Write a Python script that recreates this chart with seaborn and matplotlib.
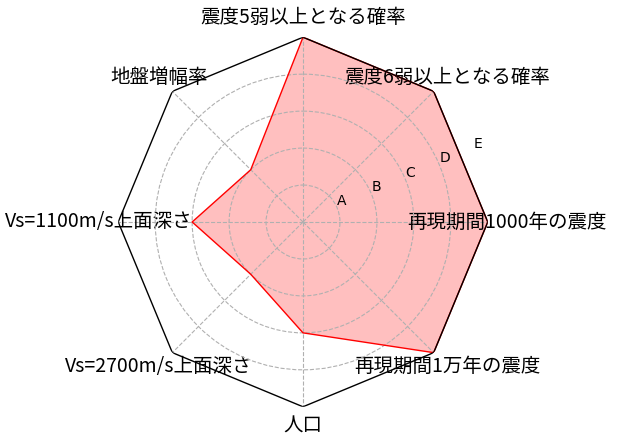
import numpy as np
import pandas as pd
import matplotlib
matplotlib.use('Agg')
import matplotlib.pyplot as plt
import seaborn as sns

# categories clockwise from the top, values on a 1-5 scale (A-E)
categories = ['震度5弱以上となる確率', '震度6弱以上となる確率', '再現期間1000年の震度',
              '再現期間1万年の震度', '人口', 'Vs=2700m/s上面深さ',
              'Vs=1100m/s上面深さ', '地盤増幅率']
values = [5, 5, 5, 5, 3, 2, 3, 2]
rank_levels = [1, 2, 3, 4, 5]
rank_labels = ['A', 'B', 'C', 'D', 'E']

plt.rcParams['font.family'] = ['DejaVu Sans']

n = len(categories)
angles = np.linspace(0, 2 * np.pi, n, endpoint=False)

# closed loop for the outline
df = pd.DataFrame({'theta': np.append(angles, angles[0]),
                   'value': values + values[:1]})

fig = plt.figure(figsize=(6.18, 4.46), dpi=100)
ax = fig.add_axes([0.1913, 0.0879, 0.598, 0.8287], projection='polar')
ax.set_theta_offset(np.pi / 2)
ax.set_theta_direction(-1)

sns.lineplot(data=df, x='theta', y='value', sort=False, estimator=None,
             color='red', linewidth=1, ax=ax)
ax.fill(df['theta'], df['value'], color='red', alpha=0.25, linewidth=0)

# octagon frame instead of the round spine
rmax = max(rank_levels)
ax.plot(df['theta'], [rmax] * len(df), color='black', linewidth=1)
ax.spines['polar'].set_visible(False)

ax.set_ylim(0, rmax)
ax.set_yticks(rank_levels)
ax.set_yticklabels(rank_labels, fontsize=10)
ax.set_rlabel_position(67.5)
ax.set_xticks(angles)
ax.set_xticklabels(categories, fontsize=14,
                   family=['Noto Sans CJK JP', 'DejaVu Sans'])
ax.set_xlabel('')
ax.set_ylabel('')

ax.grid(True, color='#b0b0b0', linestyle='--', linewidth=0.8)
ax.yaxis.get_gridlines()[-1].set_visible(False)

fig.savefig('out.png', dpi=100)
